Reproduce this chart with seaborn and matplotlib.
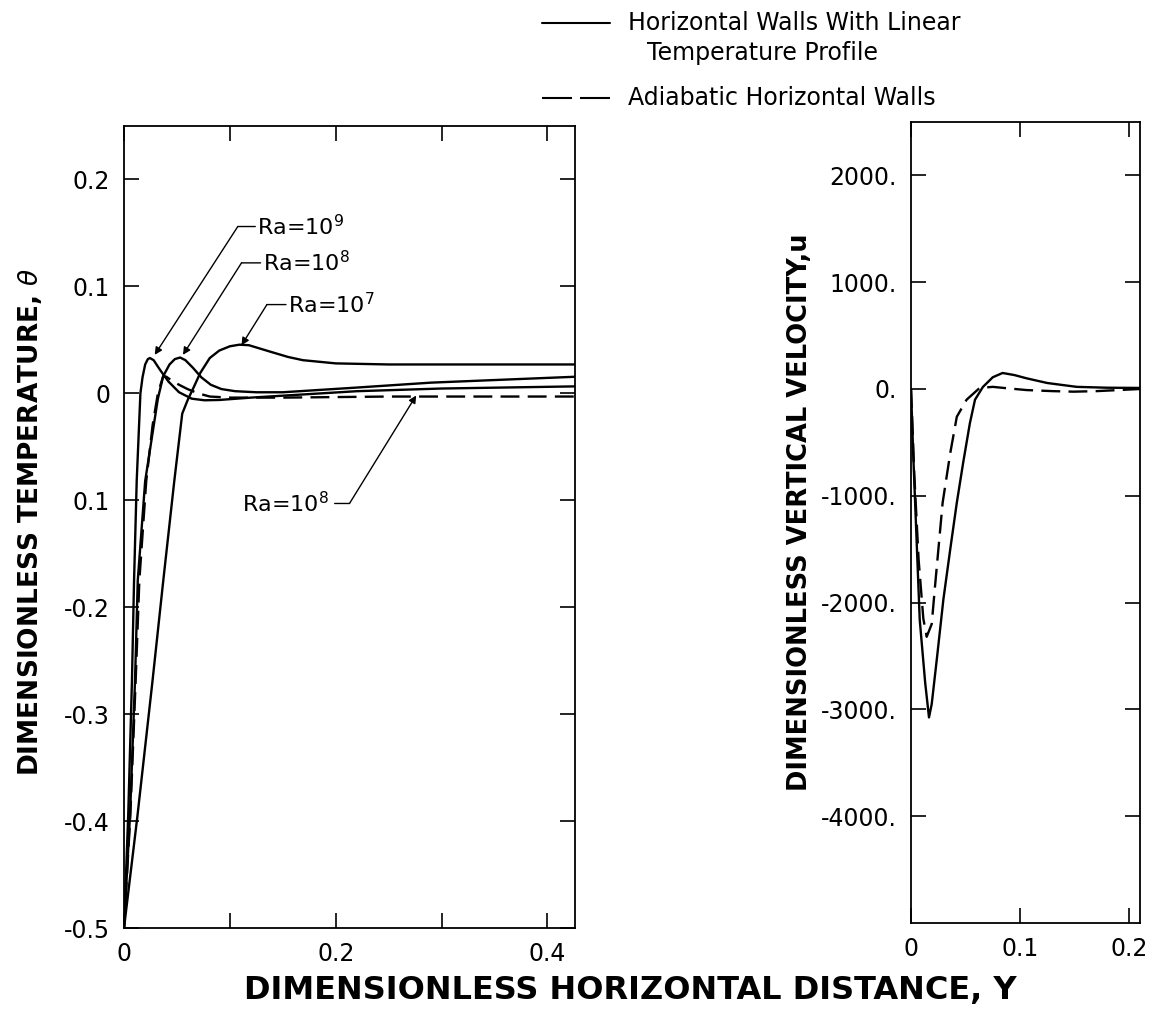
import numpy as np
import pandas as pd
import matplotlib
matplotlib.use("Agg")
import matplotlib.pyplot as plt
from matplotlib.lines import Line2D
import seaborn as sns

# ---------------- data ----------------
# Left panel: dimensionless temperature vs Y
x_ra9 = [0, 0.004, 0.0075, 0.0095, 0.012, 0.0155, 0.0175, 0.020, 0.0225, 0.0245, 0.028, 0.034,
         0.042, 0.052, 0.064, 0.076, 0.090, 0.120, 0.170, 0.220, 0.300, 0.426]
t_ra9 = [-0.5, -0.394, -0.269, -0.175, -0.082, 0.0, 0.015, 0.027, 0.032, 0.033, 0.031, 0.022,
         0.011, 0.001, -0.005, -0.0065, -0.0062, -0.004, -0.001, 0.002, 0.0045, 0.0065]

x_ra8 = [0, 0.0057, 0.0104, 0.013, 0.020, 0.027, 0.032, 0.037, 0.043, 0.048, 0.053, 0.058,
         0.065, 0.073, 0.082, 0.092, 0.105, 0.125, 0.150, 0.220, 0.290, 0.426]
t_ra8 = [-0.5, -0.394, -0.269, -0.175, -0.082, -0.037, -0.005, 0.016, 0.027, 0.032, 0.0335, 0.031,
         0.024, 0.015, 0.008, 0.004, 0.002, 0.001, 0.001, 0.0054, 0.010, 0.0155]

x_ra7 = [0, 0.0126, 0.0267, 0.037, 0.0475, 0.055, 0.060, 0.066, 0.072, 0.081, 0.090, 0.100,
         0.109, 0.118, 0.138, 0.155, 0.169, 0.200, 0.250, 0.330, 0.426]
t_ra7 = [-0.5, -0.396, -0.271, -0.176, -0.082, -0.019, -0.0066, 0.006, 0.019, 0.033, 0.040, 0.044,
         0.0455, 0.045, 0.039, 0.034, 0.031, 0.028, 0.027, 0.027, 0.027]

x_ad8 = [0, 0.006, 0.011, 0.0145, 0.021, 0.027, 0.032, 0.037, 0.040, 0.045, 0.052, 0.060,
         0.070, 0.081, 0.100, 0.150, 0.250, 0.350, 0.426]
t_ad8 = [-0.5, -0.394, -0.269, -0.175, -0.082, -0.030, 0.0, 0.016, 0.0155, 0.012, 0.008, 0.004,
         0.0, -0.003, -0.004, -0.004, -0.003, -0.003, -0.003]

# Right panel: dimensionless vertical velocity vs Y
x_u_lin = [0, 0.002, 0.005, 0.008, 0.013, 0.0165, 0.019, 0.024, 0.0297, 0.036, 0.042, 0.048,
           0.054, 0.0587, 0.066, 0.075, 0.084, 0.095, 0.106, 0.125, 0.152, 0.180, 0.210]
u_lin = [0, -600, -1380, -2160, -2750, -3075, -2950, -2500, -1970, -1500, -1065, -680,
         -320, -100, 20, 110, 150, 130, 100, 56, 20, 12, 10]

x_u_ad = [0, 0.003, 0.007, 0.0113, 0.0144, 0.019, 0.022, 0.029, 0.036, 0.042, 0.051, 0.063,
          0.075, 0.090, 0.106, 0.130, 0.149, 0.170, 0.190, 0.210]
u_ad = [0, -800, -1600, -2150, -2320, -2200, -1850, -1065, -600, -260, -100, 10,
        20, 5, -10, -20, -25, -20, -10, 0]

theta_ticks = [-0.5, -0.4, -0.3, -0.2, -0.1, 0.0, 0.1, 0.2]
theta_labels = ["-0.5", "-0.4", "-0.3", "-0.2", "0.1", "0", "0.1", "0.2"]
u_ticks = [-4000, -3000, -2000, -1000, 0, 1000, 2000]
u_labels = ["-4000.", "-3000.", "-2000.", "-1000.", "0.", "1000.", "2000."]
yl_ticks = [0, 0.1, 0.2, 0.3, 0.4]
yl_labels = ["0", "", "0.2", "", "0.4"]
yr_ticks = [0, 0.1, 0.2]
yr_labels = ["0", "0.1", "0.2"]

legend_solid = ["Horizontal Walls With Linear", "Temperature Profile"]
legend_dashed = "Adiabatic Horizontal Walls"

# ---------------- styling ----------------
sns.set_theme(style="ticks")
plt.rcParams["font.family"] = ["DejaVu Sans"]
plt.rcParams["text.color"] = "black"
plt.rcParams["axes.labelcolor"] = "black"
plt.rcParams["axes.linewidth"] = 1.3
plt.rcParams["xtick.major.width"] = 1.2
plt.rcParams["ytick.major.width"] = 1.2

fig = plt.figure(figsize=(11.52, 10.19), dpi=100)
axL = fig.add_axes([124 / 1152, 1 - 928 / 1019, 451 / 1152, 802 / 1019])
axR = fig.add_axes([911 / 1152, 1 - 923 / 1019, 229 / 1152, 801 / 1019])

LW = 1.7
dash = (0, (8, 3.5))

def curve(ax, x, y, ls):
    df = pd.DataFrame({"Y": x, "v": y})
    sns.lineplot(data=df, x="Y", y="v", ax=ax, sort=False, estimator=None,
                 color="black", lw=LW, linestyle=ls)

curve(axL, x_ra9, t_ra9, "-")
curve(axL, x_ra8, t_ra8, "-")
curve(axL, x_ra7, t_ra7, "-")
curve(axL, x_ad8, t_ad8, dash)
curve(axR, x_u_lin, u_lin, "-")
curve(axR, x_u_ad, u_ad, dash)

tick_fs = 17
for ax in (axL, axR):
    ax.set_xlabel("")
    ax.set_ylabel("")
    ax.tick_params(direction="in", length=11, top=True, right=True,
                   labelsize=tick_fs, pad=10, colors="black")
    for s in ax.spines.values():
        s.set_color("black")

axL.set_xlim(0, 0.426)
axL.set_ylim(-0.5, 0.25)
axL.set_yticks(theta_ticks)
axL.set_yticklabels(theta_labels)
axL.set_xticks(yl_ticks)
axL.set_xticklabels(yl_labels)

axR.set_xlim(0, 0.21)
axR.set_ylim(-5000, 2500)
axR.set_yticks(u_ticks)
axR.set_yticklabels(u_labels)
axR.set_xticks(yr_ticks)
axR.set_xticklabels(yr_labels)

# annotations
ann_fs = 16
arrow = dict(arrowstyle="-|>", color="black", lw=1.0, mutation_scale=11,
             shrinkA=0, shrinkB=0)
plain = dict(arrowstyle="-", color="black", lw=1.0, shrinkA=0, shrinkB=0)

def label_left(txt, tx, ty, ex, tip):
    axL.text(tx, ty, txt, fontsize=ann_fs, va="center", ha="left")
    axL.annotate("", xy=(ex, ty), xytext=(tx - 0.002, ty), arrowprops=plain)
    axL.annotate("", xy=tip, xytext=(ex, ty), arrowprops=arrow)

label_left("Ra=10$^{9}$", 0.126, 0.156, 0.1075, (0.029, 0.036))
label_left("Ra=10$^{8}$", 0.131, 0.122, 0.111, (0.0557, 0.036))
label_left("Ra=10$^{7}$", 0.155, 0.083, 0.135, (0.111, 0.045))

axL.text(0.194, -0.103, "Ra=10$^{8}$", fontsize=ann_fs, va="center", ha="right")
axL.annotate("", xy=(0.213, -0.103), xytext=(0.199, -0.103), arrowprops=plain)
axL.annotate("", xy=(0.276, -0.002), xytext=(0.213, -0.103), arrowprops=arrow)

# axis labels
fig.text(30 / 1152, 1 - 522 / 1019, "DIMENSIONLESS TEMPERATURE, $\\theta$",
         rotation=90, ha="center", va="center", fontsize=19, fontweight="bold")
fig.text(800 / 1152, 1 - 512 / 1019, "DIMENSIONLESS VERTICAL VELOCITY,u",
         rotation=90, ha="center", va="center", fontsize=18.5, fontweight="bold")
fig.text(630 / 1152, 1 - 990 / 1019, "DIMENSIONLESS HORIZONTAL DISTANCE, Y",
         ha="center", va="center", fontsize=23, fontweight="bold")

# legend (drawn manually at the top)
leg_fs = 17
fig.add_artist(Line2D([542 / 1152, 610 / 1152], [1 - 23 / 1019, 1 - 23 / 1019],
                      color="black", lw=1.5))
fig.add_artist(Line2D([542 / 1152, 610 / 1152], [1 - 98 / 1019, 1 - 98 / 1019],
                      color="black", lw=1.5, linestyle=(0, (14.4, 3.84))))
fig.text(628 / 1152, 1 - 23 / 1019, legend_solid[0], fontsize=leg_fs, va="center", ha="left")
fig.text(647 / 1152, 1 - 53 / 1019, legend_solid[1], fontsize=leg_fs, va="center", ha="left")
fig.text(628 / 1152, 1 - 98 / 1019, legend_dashed, fontsize=leg_fs, va="center", ha="left")

fig.savefig("out.png", dpi=100, facecolor="white")
